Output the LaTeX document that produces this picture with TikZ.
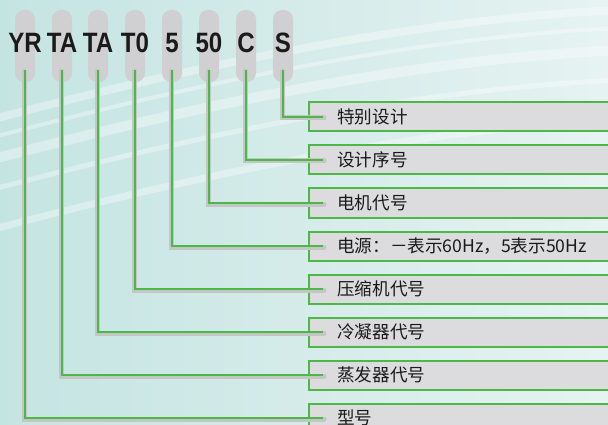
\documentclass[tikz,border=0pt]{standalone}
\usepackage{fontspec}
\setmainfont{Liberation Sans}
\newfontfamily\cjk{Noto Sans CJK SC}
\newfontfamily\codefont[FakeStretch=0.86]{Liberation Sans Bold}
\usetikzlibrary{positioning}
\definecolor{codegreen}{RGB}{76,184,72}
\definecolor{pillgray}{RGB}{208,208,210}
\definecolor{boxgray}{RGB}{220,220,222}
\definecolor{shadowgray}{RGB}{196,198,198}
\definecolor{codeblack}{RGB}{26,26,26}
\definecolor{bgleft}{RGB}{196,228,226}
\definecolor{bgright}{RGB}{230,243,242}
\begin{document}
\begin{tikzpicture}[x=1pt,y=-1pt,
  pill/.style={fill=pillgray,rounded corners=9pt,minimum width=20pt,minimum height=72pt,inner sep=0pt},
  code/.style={font=\codefont\fontsize{28}{30}\selectfont,text=codeblack,inner sep=0pt},
  labelbox/.style={draw=codegreen,line width=2pt,fill=boxgray,anchor=west,minimum height=29pt,
    minimum width=320pt,inner sep=0pt,outer sep=0pt},
  labeltext/.style={anchor=west,inner sep=0pt,font=\cjk\fontsize{17.6}{19}\selectfont,text=codeblack},
  shadow/.style={draw=shadowgray,line width=5pt,line cap=round},
  link/.style={draw=codegreen,line width=2pt}]
\useasboundingbox (0,0) rectangle (608,425);
\shade[left color=bgleft,right color=bgright] (0,0) rectangle (608,425);
\clip (0,0) rectangle (608,425);
% light streaks
\foreach \s/\w in {0/8,18/4,40/10,70/5,110/7}
  \draw[white,opacity=.35,line width=\w pt] (-10,120+\s) .. controls (180,70+\s) and (400,20+\s) .. (620,10+\s);
% code letters
\foreach \k/\x/\code in {1/25/YR,2/62/TA,3/98/TA,4/135/T0,5/172/5,6/209/50,7/246/C,8/283/S} {
  \node[pill] (p\k) at (\x,46) {};
  \node[code] (c\k) at (\x,43) {\code};
}
% label boxes
\foreach \k/\txt in {8/{特别设计},7/{设计序号},6/{电机代号},5/{电源：－表示60Hz，5表示50Hz},
    4/{压缩机代号},3/{冷凝器代号},2/{蒸发器代号},1/{型号}} {
  \node[labelbox] (b\k) at (309,{117+43*(8-\k)}) {};
  \node[labeltext] (t\k) at ([xshift=28pt]b\k.west) {\txt};
}
% connectors
\foreach \k in {1,...,8} {
  \draw[shadow] ([xshift=-1pt,yshift=11pt]p\k.south) |- ([xshift=15pt,yshift=-1pt]b\k.west);
  \draw[link] ([yshift=12pt]p\k.south) |- ([xshift=14pt]b\k.west);
}
\end{tikzpicture}
\end{document}
